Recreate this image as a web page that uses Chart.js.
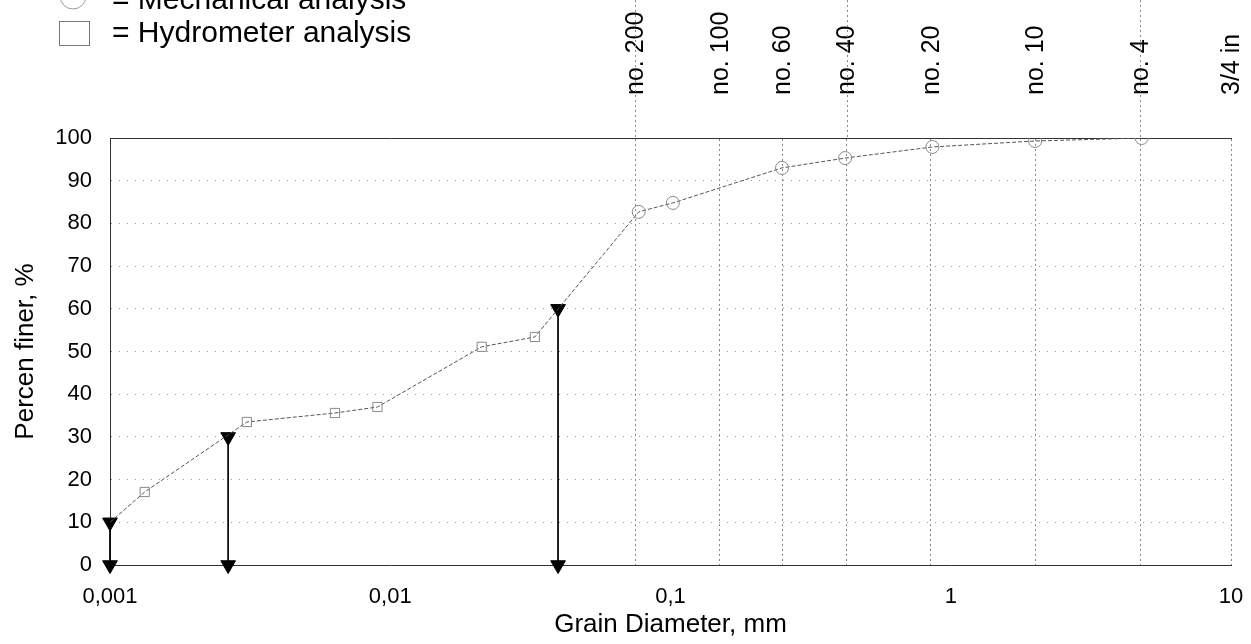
<!DOCTYPE html>
<html>
<head>
<meta charset="utf-8">
<script src="https://cdn.jsdelivr.net/npm/chart.js@4"></script>
<style>
  html, body { margin: 0; padding: 0; background: #fff; }
  #wrap { width: 1251px; height: 644px; }
</style>
</head>
<body>
<div id="wrap"><canvas id="chart" width="1251" height="644"></canvas></div>
<script>
// hydrometer readings (mm, % finer)
const hydroDiam = [0.00133, 0.00308, 0.00635, 0.0090, 0.0212, 0.0328];
const hydroFiner = [17.1, 33.5, 35.6, 37.0, 51.1, 53.4];

// sieve (mechanical) readings
const mechDiam = [0.077, 0.102, 0.25, 0.42, 0.86, 2.0, 4.8];
const mechFiner = [82.7, 84.8, 93.0, 95.3, 97.9, 99.3, 100];

// characteristic diameters D10 / D30 / D60
const dNames = ['D10', 'D30', 'D60'];
const dDiam = [0.001, 0.00264, 0.0397];
const dFiner = [10, 30, 60];

// sieve numbers on top
const sieveNames = ['no. 200', 'no. 100', 'no. 60', 'no. 40', 'no. 20', 'no. 10', 'no. 4', '3/4 in'];
const sieveSizes = [0.075, 0.15, 0.25, 0.425, 0.85, 2.0, 4.75, 10];
const sieveLongLines = ['no. 200', 'no. 40', 'no. 4'];

const xTickValues = [0.001, 0.01, 0.1, 1, 10];
const xTickLabels = ['0,001', '0,01', '0,1', '1', '10'];

Chart.defaults.font.family = "'Liberation Sans', Arial, sans-serif";
Chart.defaults.color = '#000';

const toPts = (xs, ys) => xs.map((x, i) => ({ x: x, y: ys[i] }));

const curve = [{ x: dDiam[0], y: dFiner[0] }]
    .concat(toPts(hydroDiam, hydroFiner))
    .concat(toPts(mechDiam, mechFiner));

const datasets = [
    {
        label: 'Mechanical analysis',
        data: toPts(mechDiam, mechFiner),
        showLine: false,
        pointStyle: 'circle',
        pointRadius: 6.5,
        borderColor: '#888',
        borderWidth: 1,
        backgroundColor: 'rgba(0,0,0,0)'
    },
    {
        label: 'Hydrometer analysis',
        data: toPts(hydroDiam, hydroFiner),
        showLine: false,
        pointStyle: 'rect',
        pointRadius: 6.5,
        borderColor: '#888',
        borderWidth: 1,
        backgroundColor: 'rgba(0,0,0,0)'
    },
    {
        label: 'curve',
        data: curve,
        showLine: true,
        pointRadius: 0,
        borderColor: '#555',
        borderWidth: 1,
        borderDash: [4, 2]
    }
];

dNames.forEach((n, i) => {
    datasets.push({
        label: n,
        data: [{ x: dDiam[i], y: dFiner[i] }, { x: dDiam[i], y: 0 }],
        showLine: true,
        borderColor: '#000',
        borderWidth: 1,
        pointStyle: 'triangle',
        rotation: 180,
        pointRadius: 8.5,
        pointBackgroundColor: '#000',
        pointBorderColor: '#000',
        clip: false
    });
});

// legend + the sieve lines that run above the plot
const extras = {
    id: 'extras',
    afterDraw(chart) {
        const ctx = chart.ctx;
        const top = chart.scales.xTop;
        ctx.save();
        ctx.strokeStyle = '#888';
        ctx.lineWidth = 1;
        ctx.setLineDash([2, 3]);
        sieveLongLines.forEach(n => {
            const px = Math.round(top.getPixelForValue(sieveSizes[sieveNames.indexOf(n)])) + 0.5;
            ctx.beginPath();
            ctx.moveTo(px, 0);
            ctx.lineTo(px, chart.chartArea.top);
            ctx.stroke();
        });
        ctx.setLineDash([]);

        ctx.strokeStyle = '#999';
        ctx.beginPath();
        ctx.arc(73, -4, 13, 0, Math.PI * 2);
        ctx.stroke();
        ctx.strokeStyle = '#777';
        ctx.strokeRect(59.5, 21.5, 30, 24);

        ctx.fillStyle = '#000';
        ctx.font = "30px 'Liberation Sans', Arial, sans-serif";
        ctx.textBaseline = 'alphabetic';
        ctx.fillText('= ' + chart.data.datasets[0].label, 112, 9);
        ctx.fillText('= ' + chart.data.datasets[1].label, 112, 42);
        ctx.restore();
    }
};

const noSidePad = s => { s.paddingLeft = 0; s.paddingRight = 0; };

new Chart(document.getElementById('chart'), {
    type: 'scatter',
    data: { datasets: datasets },
    options: {
        responsive: false,
        animation: false,
        layout: { padding: { left: 10, right: 20, top: 12, bottom: 4 } },
        plugins: { legend: { display: false }, tooltip: { enabled: false } },
        scales: {
            x: {
                type: 'logarithmic',
                position: 'bottom',
                min: 0.001,
                max: 10,
                afterBuildTicks: s => { s.ticks = xTickValues.map(v => ({ value: v })); },
                afterFit: s => { s.height = 75; noSidePad(s); },
                ticks: {
                    font: { size: 22 },
                    padding: 11,
                    maxRotation: 0,
                    autoSkip: false,
                    callback: (v, i) => xTickLabels[i]
                },
                grid: { display: false },
                border: { color: '#333', width: 1 },
                title: {
                    display: true,
                    text: 'Grain Diameter, mm',
                    font: { size: 26 },
                    padding: { top: 0, bottom: 0 }
                }
            },
            xTop: {
                type: 'logarithmic',
                position: 'top',
                min: 0.001,
                max: 10,
                afterBuildTicks: s => { s.ticks = sieveSizes.map(v => ({ value: v })); },
                afterFit: s => { s.height = 126; noSidePad(s); },
                ticks: {
                    font: { size: 25 },
                    padding: 43,
                    labelOffset: 31,
                    minRotation: 90,
                    maxRotation: 90,
                    autoSkip: false,
                    callback: (v, i) => sieveNames[i]
                },
                grid: { color: '#888', lineWidth: 1, drawTicks: false },
                border: { color: '#333', width: 1, dash: [2, 3] }
            },
            y: {
                min: 0,
                max: 100,
                afterBuildTicks: s => {
                    const t = [];
                    for (let v = 0; v <= 100; v += 10) t.push({ value: v });
                    s.ticks = t;
                },
                afterFit: s => { s.width = 100; },
                ticks: { font: { size: 22 }, padding: 18 },
                grid: { color: '#999', lineWidth: 1, drawTicks: false },
                border: { color: '#333', width: 1, dash: [1, 7] },
                title: {
                    display: true,
                    text: 'Percen finer, %',
                    font: { size: 26 },
                    padding: { top: 0, bottom: 0 }
                }
            }
        }
    },
    plugins: [extras]
});
</script>
</body>
</html>
